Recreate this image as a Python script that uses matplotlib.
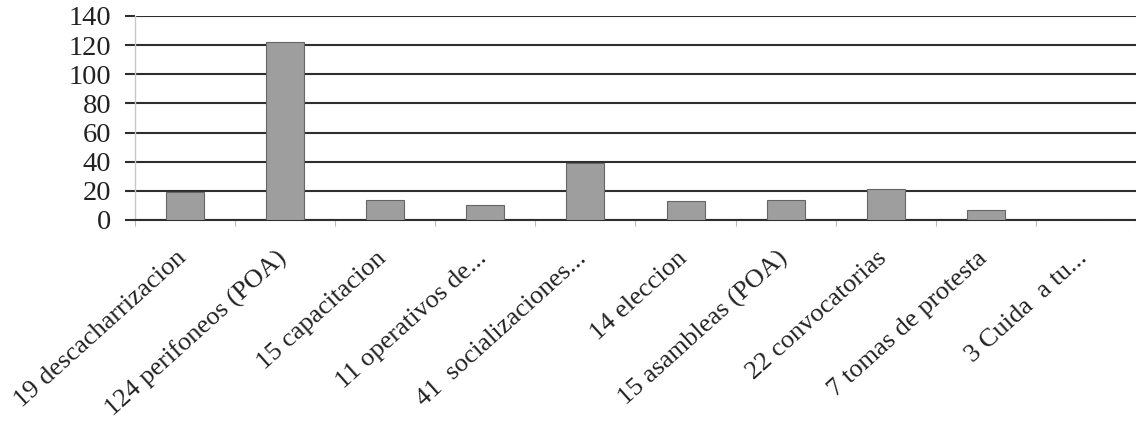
import matplotlib
matplotlib.use("Agg")
import matplotlib.pyplot as plt
import matplotlib.transforms as mtransforms
import numpy as np

labels = ["19 descacharrizacion", "124 perifoneos (POA)", "15 capacitacion",
          "11 operativos de...", "41  socializaciones...", "14 eleccion",
          "15 asambleas (POA)", "22 convocatorias", "7 tomas de protesta",
          "3 Cuida  a tu..."]
values = [19, 122, 14, 10, 39, 13, 14, 21, 7, 0]
yticks = [0, 20, 40, 60, 80, 100, 120, 140]

plt.rcParams['font.family'] = ['Liberation Serif', 'DejaVu Serif']

fig = plt.figure(figsize=(11.36, 4.25), dpi=100)
ax = fig.add_axes([0.1188, 0.4824, 0.8812, 0.48])

x = np.arange(len(labels))
ax.bar(x, values, width=0.38, color='#9e9e9e', edgecolor='#666666',
       linewidth=0.8, zorder=3)

ax.set_xlim(-0.5, len(labels) - 0.5)
ax.set_ylim(0, 140)
ax.set_yticks(yticks)
ax.set_yticklabels([str(v) for v in yticks], fontsize=20.5, color='#222222')
ax.yaxis.grid(True, color='#2e2e2e', linewidth=1.5, zorder=1)
ax.tick_params(axis='y', length=7, width=1.5, color='#2e2e2e', pad=10)

# small ticks at the category boundaries, labels drawn at the centres
ax.set_xticks(np.arange(len(labels) + 1) - 0.5)
ax.set_xticklabels([])
ax.tick_params(axis='x', length=4, width=0.8, color='#bbbbbb')

trans = mtransforms.blended_transform_factory(ax.transData, ax.transAxes)
trans = mtransforms.offset_copy(trans, fig=fig, x=-9, y=-27, units='dots')
for i, lab in enumerate(labels):
    ax.text(i, 0, lab, transform=trans, fontsize=19, color='#222222',
            rotation=42, ha='right', va='top', rotation_mode='anchor')

for s in ['top', 'right']:
    ax.spines[s].set_visible(False)
ax.spines['left'].set_color('#c8c8c8')
ax.spines['left'].set_linewidth(1.0)
ax.spines['bottom'].set_color('#2e2e2e')
ax.spines['bottom'].set_linewidth(1.5)

fig.savefig("out.png", dpi=100)
